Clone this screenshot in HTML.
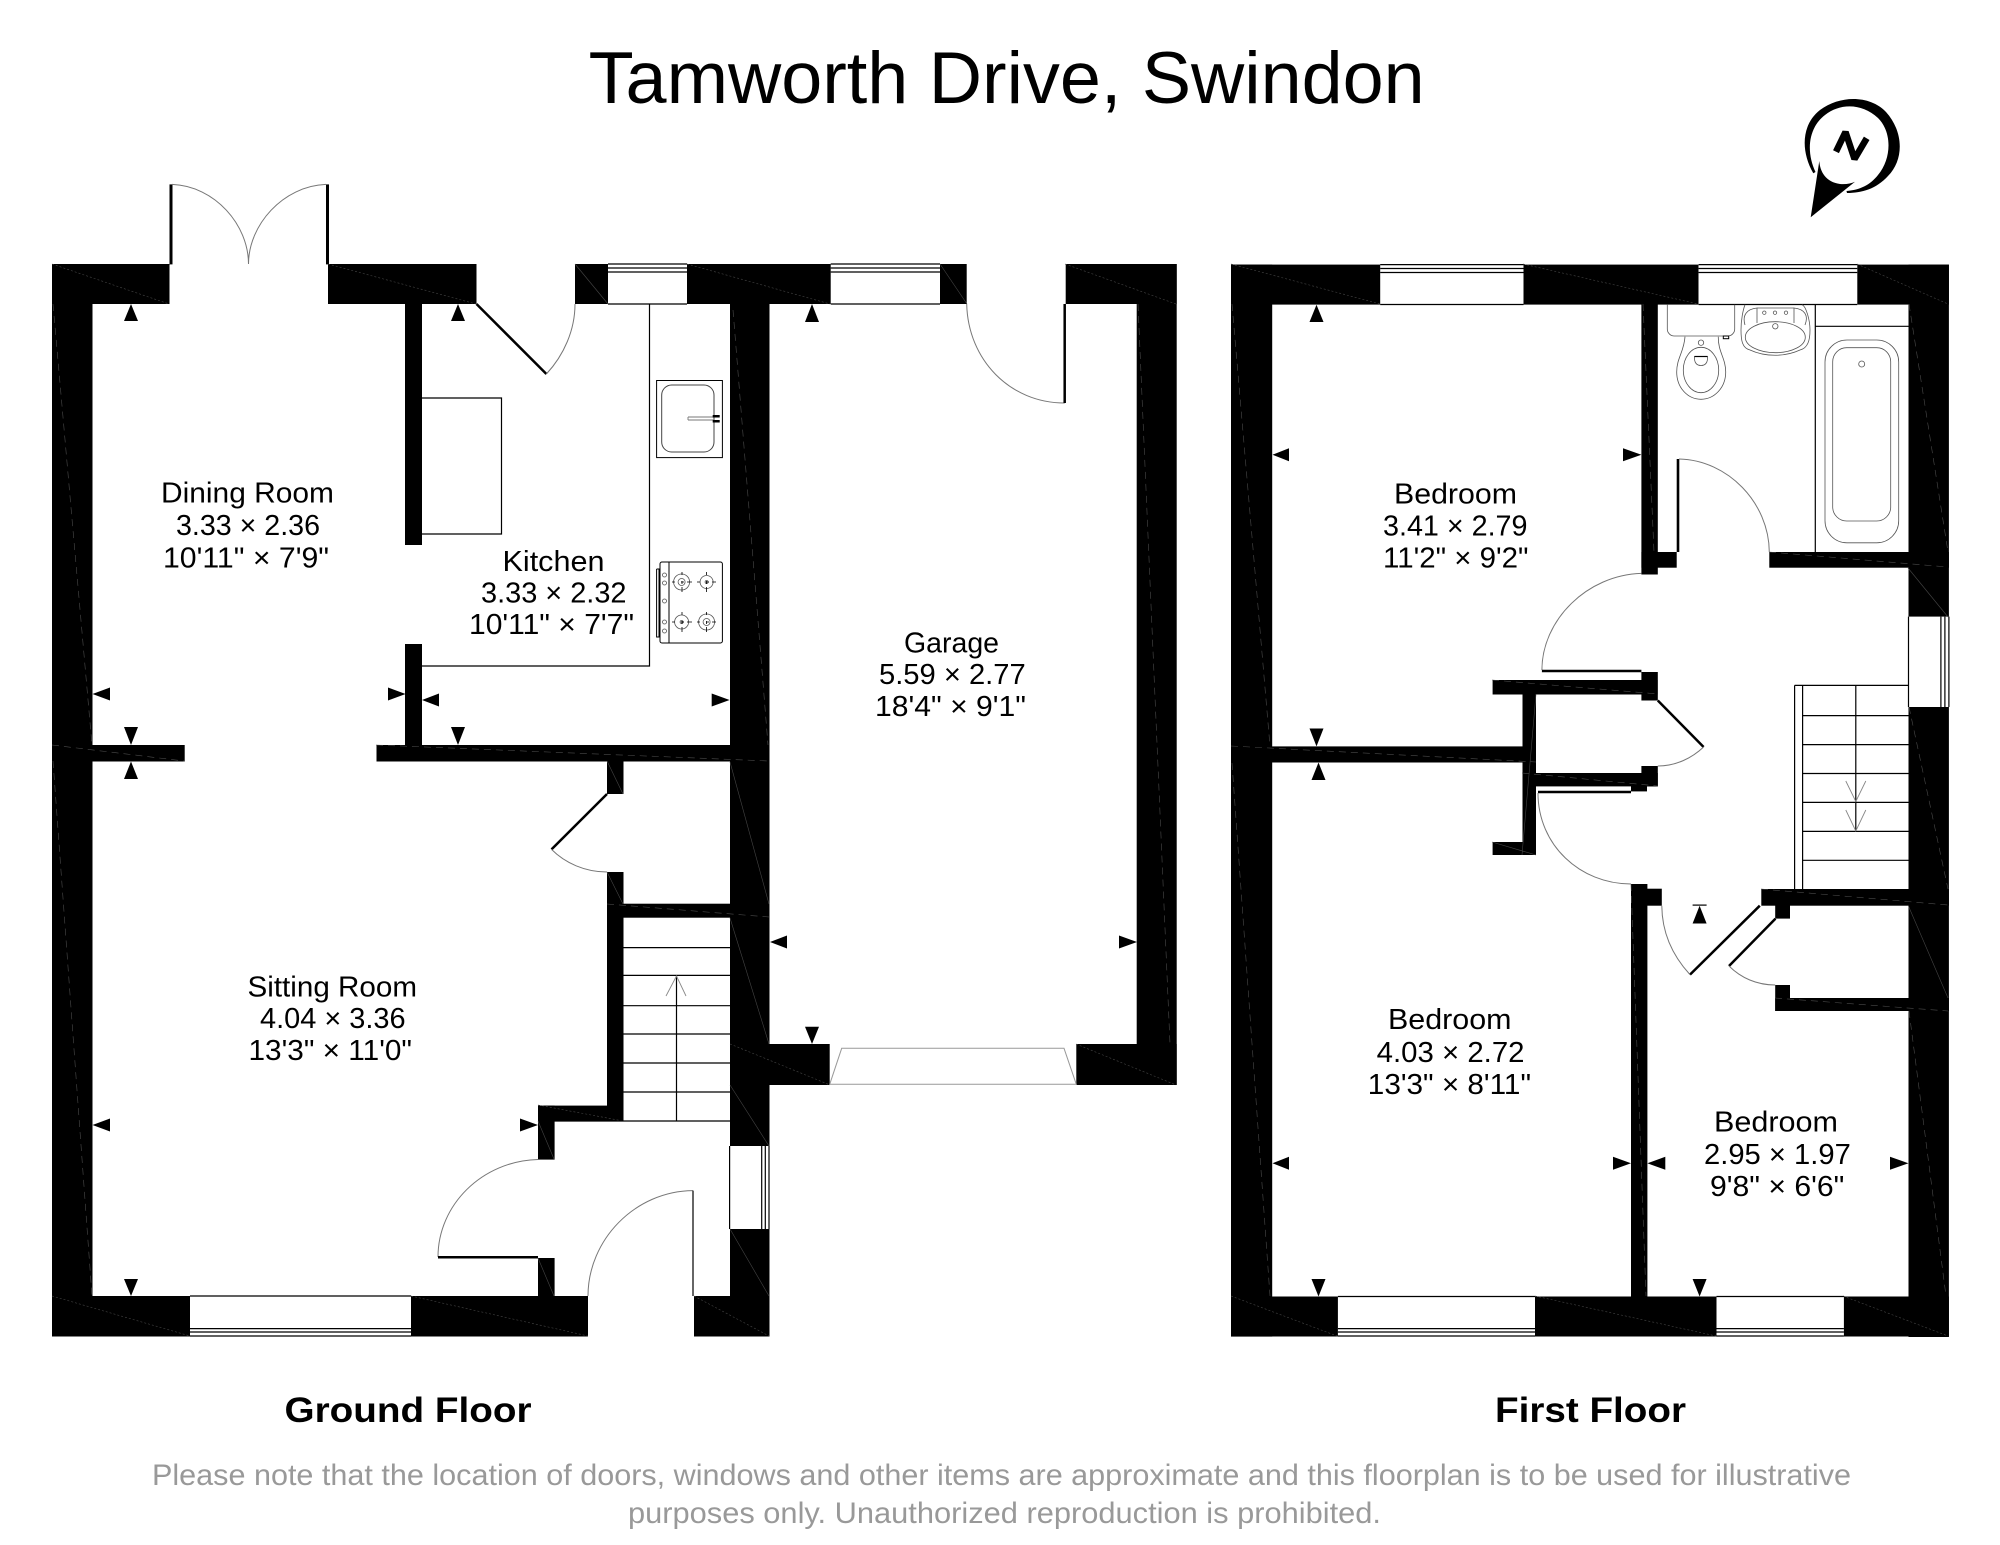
<!DOCTYPE html>
<html><head><meta charset="utf-8"><style>
html,body{margin:0;padding:0;background:#fff}
svg{display:block}
text{font-family:"Liberation Sans",sans-serif;fill:#000}
.r{font-size:29px}
.a{fill:none;stroke:#777;stroke-width:1}
.d{stroke:#000;stroke-width:2.5;fill:none}
.t{stroke:#000;stroke-width:1.2;fill:none}
.g{stroke:#4a4a4a;stroke-width:.6;fill:none;stroke-dasharray:7 5}
.f{stroke:#444;stroke-width:.6;fill:none}
</style></head><body>
<svg width="2000" height="1545" viewBox="0 0 2000 1545" xmlns="http://www.w3.org/2000/svg">
<rect width="2000" height="1545" fill="#fff"/>
<text x="588.7" y="103" font-size="73" textLength="836" lengthAdjust="spacingAndGlyphs">Tamworth Drive, Swindon</text>

<!-- GROUND FLOOR WALLS -->
<g fill="#000">
<rect x="52" y="264" width="40.5" height="1072.5"/>
<rect x="52" y="264" width="117.5" height="40"/>
<rect x="328" y="264" width="148.5" height="40"/>
<rect x="575" y="264" width="33" height="40"/>
<rect x="687" y="264" width="143.7" height="40"/>
<rect x="940" y="264" width="26.7" height="40"/>
<rect x="1065.7" y="264" width="111" height="40"/>
<rect x="1136.7" y="264" width="40" height="821"/>
<rect x="1076.3" y="1044" width="100.4" height="41"/>
<rect x="730" y="1044" width="99.7" height="41"/>
<rect x="730" y="264" width="39.5" height="882"/>
<rect x="730" y="1229" width="39.5" height="107.5"/>
<rect x="405" y="304" width="17" height="241"/>
<rect x="405" y="644" width="17" height="101"/>
<rect x="52" y="745" width="132.7" height="16.5"/>
<rect x="376.5" y="745" width="393" height="16.5"/>
<rect x="607" y="761" width="16.5" height="33"/>
<rect x="607" y="872" width="16.5" height="46"/>
<rect x="607" y="903.7" width="162" height="14"/>
<rect x="607" y="918" width="16.5" height="188"/>
<rect x="538" y="1105.6" width="85.5" height="15.4"/>
<rect x="538" y="1105.6" width="16.6" height="54"/>
<rect x="538" y="1258" width="16.6" height="38"/>
<rect x="52" y="1296" width="138" height="40.5"/>
<rect x="411" y="1296" width="177" height="40.5"/>
<rect x="694" y="1296" width="75.5" height="40.5"/>
<rect x="169.5" y="184.4" width="3" height="80"/>
<rect x="326" y="184.4" width="3" height="80"/>
</g>

<!-- wall construction lines (ground) -->
<g class="g">
<path d="M53 304L92 745M53 761L92 1296M733 310L768 745M1138 304L1170 1044M52 745L184 761M376 745L769 761"/>
<path d="M607 904L769 917"/>
</g>
<g class="f" stroke-dasharray="2 2">
<path d="M52 264L169 304M328 264L476 304M687 264L830 304M1065 264L1176 304M52 1296L190 1336M411 1296L588 1336M694 1296L769 1336M730 1044L830 1085M1076 1044L1176 1085M538 1105L623 1121"/>
</g>
<path class="f" d="M575 264L608 304M940 264L967 304M607 761L623 794M607 872L623 904M538 1121L554 1159M538 1258L554 1296M730 918L769 1044M730 1085L769 1146M730 1229L769 1296M730 762L769 904"/>

<!-- ground windows -->
<g class="t">
<path d="M608 264H687M608 268H687M608 272H687M608 304H687"/>
<path d="M830.7 264H940M830.7 268H940M830.7 272H940M830.7 304H940"/>
<path d="M190 1296H411M190 1328.6H411M190 1332H411M190 1336H411"/>
<path d="M729.6 1146V1229M761.7 1146V1229M765.3 1146V1229M769 1146V1229"/>
</g>
<path d="M841.7 1048.3H1064L1076.3 1084.3H829.7Z" fill="none" stroke="#999" stroke-width="1"/>

<!-- ground doors -->
<path class="a" d="M172 184.4C215 186 248.5 225 248.5 264M326 184.4C283 186 248.5 225 248.5 264"/>
<path class="d" d="M476.5 304L546.4 374"/>
<path class="a" d="M546.4 374C564 355 575 330 575 304"/>
<path class="d" d="M607 794L551.5 849.4"/>
<path class="a" d="M551.5 849.4C565 863 585 872 607 872"/>
<path class="a" d="M538 1159.5C482 1161 438 1205 438 1257"/>
<path class="d" d="M438 1257.3H538"/>
<path class="a" d="M588 1296C588 1240 635 1191 693 1190.6"/>
<path d="M693 1190.6V1296" stroke="#333" stroke-width="1.5" fill="none"/>
<path class="a" d="M966.7 304C968 360 1010 403 1064.7 403"/>
<path d="M1064.7 304V403" stroke="#000" stroke-width="2.5" fill="none"/>

<!-- kitchen -->
<g class="t">
<path d="M649.5 304V666H422"/>
<path d="M422 398H501.5V534H422"/>
<rect x="656.6" y="380.5" width="65.8" height="77.1" stroke-width="1"/>
<rect x="661.7" y="385" width="52.3" height="67" rx="10" stroke="#444" stroke-width="1"/>
<path d="M688 417H714M688 420H714" stroke-width=".9" stroke="#777"/>
<path d="M688 417V420" stroke-width=".9" stroke="#777"/>
<rect x="712.7" y="415" width="7" height="2.5" fill="#000" stroke="none"/>
<rect x="712.7" y="420" width="7" height="2.5" fill="#000" stroke="none"/>
<rect x="660" y="562" width="62.4" height="81" rx="2" stroke-width="1"/>
<path d="M669 562V643M656.6 569H660M656.6 569V637H660M659 569V637" stroke-width="1"/>
</g>
<g fill="none" stroke="#555" stroke-width=".8">
<circle cx="681.6" cy="582" r="8"/><circle cx="681.6" cy="582" r="3.5"/><circle cx="706.6" cy="582" r="6.5"/><circle cx="706.6" cy="582" r="1.5"/><circle cx="681.6" cy="622" r="7"/><circle cx="681.6" cy="622" r="1.5"/><circle cx="706.6" cy="622" r="8"/><circle cx="706.6" cy="622" r="3.5"/>
<circle cx="664.5" cy="575" r="2"/><circle cx="664.5" cy="583" r="2"/><circle cx="664.5" cy="601" r="2"/><circle cx="664.5" cy="622" r="2"/><circle cx="664.5" cy="631" r="2"/>
</g>
<path d="M672 582H692M682 572V592M697 582H716M706.6 572V592M672 622H692M682 612V632M697 622H716M706.6 612V632" stroke="#000" stroke-width=".8" stroke-dasharray="3 6 3"/>

<!-- ground stairs -->
<path class="t" d="M623.5 947.6H730M623.5 975.4H730M623.5 1005.7H730M623.5 1034H730M623.5 1063H730M623.5 1092H730M554 1121H730M676.5 976V1121"/>
<path d="M666 996L676.5 976L686 996" fill="none" stroke="#888" stroke-width=".9"/>

<!-- FIRST FLOOR WALLS -->
<g fill="#000">
<rect x="1231" y="264.6" width="41.2" height="1072"/>
<rect x="1231" y="264.6" width="149.2" height="40"/>
<rect x="1523.5" y="264.6" width="175" height="40"/>
<rect x="1857.3" y="264.6" width="91.6" height="40"/>
<rect x="1908.5" y="264.6" width="40.4" height="352"/>
<rect x="1908.5" y="707" width="40.4" height="630"/>
<rect x="1641.4" y="304" width="16.4" height="270.5"/>
<rect x="1641.4" y="552" width="35.3" height="15.7"/>
<rect x="1769.3" y="552" width="179.6" height="15.7"/>
<rect x="1676.7" y="459" width="2.6" height="93"/>
<rect x="1641.4" y="672" width="16.4" height="28.5"/>
<rect x="1492.6" y="680" width="165" height="14.5"/>
<rect x="1522.5" y="680" width="13.5" height="175"/>
<rect x="1492.6" y="842" width="43.4" height="13"/>
<rect x="1231" y="746.4" width="305" height="16.1"/>
<rect x="1522.5" y="773" width="135.3" height="13.4"/>
<rect x="1641.4" y="766" width="16.4" height="20.4"/>
<rect x="1631" y="786" width="16" height="5.4"/>
<rect x="1631" y="884" width="16.4" height="412.5"/>
<rect x="1631" y="888.7" width="30.8" height="17"/>
<rect x="1761.3" y="889" width="187.6" height="16.7"/>
<rect x="1775.2" y="905" width="14.8" height="13.6"/>
<rect x="1775.2" y="985" width="14.8" height="26"/>
<rect x="1775.2" y="998" width="173.7" height="13"/>
<rect x="1231" y="1296.5" width="106.9" height="40"/>
<rect x="1535" y="1296.5" width="181.5" height="40"/>
<rect x="1843.9" y="1296.5" width="105" height="40"/>
</g>
<g class="g">
<path d="M1232 304L1270 746M1232 763L1270 1296M1643 304L1654 552M1909 304L1948 552M1909 707L1948 889M1909 1011L1946 1296M1231 746L1536 762M1769 552L1948 567M1761 889L1948 905M1631 884L1646 1296M1775 998L1948 1011M1492 680L1658 694M1522 773L1658 786"/>
</g>
<g class="f" stroke-dasharray="2 2">
<path d="M1231 264L1380 304M1523 264L1698 304M1857 264L1948 304M1231 1296L1337 1336M1535 1296L1716 1336M1843 1296L1948 1336"/>
</g>
<path class="f" d="M1908 568L1948 617M1908 905L1948 998M1522 855L1536 694M1492 842L1536 855"/>

<!-- first windows -->
<g class="t">
<path d="M1380.2 264.6H1523.5M1380.2 268.5H1523.5M1380.2 272.5H1523.5M1380.2 304.5H1523.5"/>
<path d="M1698.6 264.6H1857.3M1698.6 268.5H1857.3M1698.6 272.5H1857.3M1698.6 304.5H1857.3"/>
<path d="M1337.9 1296.5H1535M1337.9 1328.6H1535M1337.9 1332H1535M1337.9 1336H1535"/>
<path d="M1716.5 1296.5H1843.9M1716.5 1328.6H1843.9M1716.5 1332H1843.9M1716.5 1336H1843.9"/>
<path d="M1908.5 616.6V707M1940.9 616.6V707M1944.9 616.6V707M1948.9 616.6V707"/>
</g>

<!-- first doors -->
<path class="a" d="M1679 459C1728 460 1769 503 1769.3 552"/>
<path class="a" d="M1641.4 573.4C1587 575 1542 620 1541.9 670"/>
<path class="d" d="M1541.9 671H1641.4"/>
<path class="d" d="M1657.8 700.5L1703.6 747"/>
<path class="a" d="M1703.6 747C1692 758 1676 766 1657.8 766"/>
<path class="d" d="M1538 792H1631"/>
<path class="a" d="M1538 793C1538 845 1580 884 1631 884"/>
<path class="d" d="M1759.8 905.7L1690 974.6"/>
<path class="a" d="M1690 974.6C1672 955 1662 932 1661.8 905.7"/>
<path class="d" d="M1775.5 918.6L1729 966"/>
<path class="a" d="M1729 966C1741 978 1757 985 1775.2 985"/>

<!-- bathroom -->
<path class="t" d="M1815.3 304.7V552M1815.3 326.3H1908.5"/>
<g fill="none" stroke="#555" stroke-width=".8">
<path d="M1667.3 304.7V329a7 7 0 0 0 7 7H1727.7a7 7 0 0 0 7-7V304.7"/>
<path d="M1685 336.7C1684 352 1676.7 358 1676.7 372C1676.7 388 1688 399.3 1701 399.3C1714 399.3 1725.7 388 1725.7 372C1725.7 358 1718 352 1718.3 336.7"/>
<ellipse cx="1701" cy="370" rx="17.7" ry="22.7"/>
<circle cx="1701" cy="342.7" r="2.7"/>
<path d="M1694.5 356.5C1694 363 1697 365.5 1701 365.5C1705 365.5 1708 363 1707.5 356.5Z"/>
<path d="M1741 330C1741 340 1742 348 1750 350C1765 357 1785 357 1800 350C1808 348 1810 340 1810 330C1810 320 1806 306 1802 304.7M1745 304.7C1743 310 1741 320 1741 330"/>
<ellipse cx="1775.3" cy="337.2" rx="30" ry="15.5"/>
<path d="M1745 325C1742 315 1747 309 1757 308V323M1805 325C1809 315 1804 309 1794 308V323M1757 308H1794"/>
<circle cx="1764.3" cy="312.7" r="1.7"/><circle cx="1775" cy="312.7" r="1.7"/><circle cx="1786" cy="312.7" r="1.7"/><circle cx="1775.3" cy="326.3" r="2.7"/>
<rect x="1825" y="340" width="73.7" height="202.8" rx="22"/>
<rect x="1832.7" y="347.7" width="58" height="173.3" rx="14"/>
<circle cx="1861.7" cy="364" r="3"/>
</g>
<rect x="1723.3" y="336" width="5.4" height="2.7" fill="none" stroke="#000" stroke-width="1"/>
<path d="M1694.5 356.5H1707.5" stroke="#000" stroke-width="1.2"/>

<!-- first stairs -->
<path class="t" d="M1794.6 685.4H1908.5M1794.6 685.4V889M1802.6 685.4V889M1802.6 715.6H1908.5M1802.6 744.6H1908.5M1802.6 773.5H1908.5M1802.6 802.4H1908.5M1802.6 831.4H1908.5M1802.6 860.3H1908.5M1855.8 685.4V831.4"/>
<path d="M1845.8 781L1855.8 801.5L1865.8 781M1845.8 810L1855.8 831L1865.8 810" fill="none" stroke="#888" stroke-width=".9"/>

<!-- ARROWS -->
<g fill="#000">
<polygon points="131,304 124,321 138,321"/>
<polygon points="458,304 451,321 465,321"/>
<polygon points="92.5,694 110,687.5 110,700.5"/>
<polygon points="405.6,694 388,687.5 388,700.5"/>
<polygon points="422,700 439,693.5 439,706.5"/>
<polygon points="729.6,700 711.7,693.5 711.7,706.5"/>
<polygon points="131,745 124,727 138,727"/>
<polygon points="131,761.5 124,779 138,779"/>
<polygon points="458,745 451,727 465,727"/>
<polygon points="812,304 805,322 819,322"/>
<polygon points="770,942 787,935.5 787,948.5"/>
<polygon points="1137,942 1119,935.5 1119,948.5"/>
<polygon points="812,1044 805,1026.7 819,1026.7"/>
<polygon points="92.5,1125 110,1118.5 110,1131.5"/>
<polygon points="538,1125 520,1118.5 520,1131.5"/>
<polygon points="131,1296 124,1279 138,1279"/>

<polygon points="1316.5,304.7 1309.5,322 1323.5,322"/>
<polygon points="1272.5,454.8 1289,448.3 1289,461.3"/>
<polygon points="1641.4,454.8 1623,448.3 1623,461.3"/>
<polygon points="1316.5,746.4 1309.5,728.5 1323.5,728.5"/>
<polygon points="1318.5,762.5 1311.5,780 1325.5,780"/>
<polygon points="1272.5,1163.3 1289,1156.8 1289,1169.8"/>
<polygon points="1631,1163.3 1613,1156.8 1613,1169.8"/>
<polygon points="1647.4,1163.3 1665.3,1156.8 1665.3,1169.8"/>
<polygon points="1908.5,1163.3 1890,1156.8 1890,1169.8"/>
<polygon points="1318.5,1296.5 1311.5,1279 1325.5,1279"/>
<polygon points="1699.6,1296.5 1692.6,1279 1706.6,1279"/>
<polygon points="1699.6,905.7 1692.6,923.5 1706.6,923.5"/>
<rect x="1692.6" y="904.5" width="14" height="1.2"/>
</g>

<!-- NORTH -->
<path fill="#000" d="M1813.3 173.3C1800 150 1802 124 1820 110C1840 95 1870 95 1886 112C1904 132 1904 160 1888 176C1876 189 1862 193 1847 193L1846.5 191C1860 190 1870 185 1878 175C1892 158 1892 132 1878 118C1862 103 1840 103 1825 115C1808 128 1806 152 1815.5 172Z"/>
<path fill="#000" d="M1819.3 161C1820 172 1826 182 1840 184C1846 184.5 1851 183.5 1855 181.7L1810.7 217.3Z"/>
<path d="M1836 151.7L1845.5 132L1854.5 159L1866.7 138.3" fill="none" stroke="#000" stroke-width="6.5" stroke-linejoin="bevel"/>

<!-- ROOM LABELS -->
<g class="r">
<text x="161" y="502.4" textLength="173" lengthAdjust="spacingAndGlyphs">Dining Room</text>
<text x="176" y="535" textLength="144" lengthAdjust="spacingAndGlyphs">3.33 × 2.36</text>
<text x="163" y="567.5" textLength="166" lengthAdjust="spacingAndGlyphs">10'11" × 7'9"</text>
<text x="502.5" y="570.8" textLength="102" lengthAdjust="spacingAndGlyphs">Kitchen</text>
<text x="481" y="602.7" textLength="145.5" lengthAdjust="spacingAndGlyphs">3.33 × 2.32</text>
<text x="469" y="634" textLength="165" lengthAdjust="spacingAndGlyphs">10'11" × 7'7"</text>
<text x="247.5" y="996.5" textLength="169.5" lengthAdjust="spacingAndGlyphs">Sitting Room</text>
<text x="260" y="1028" textLength="145.6" lengthAdjust="spacingAndGlyphs">4.04 × 3.36</text>
<text x="248.5" y="1060" textLength="163.5" lengthAdjust="spacingAndGlyphs">13'3" × 11'0"</text>
<text x="904" y="652.7" textLength="95" lengthAdjust="spacingAndGlyphs">Garage</text>
<text x="879" y="684" textLength="146.7" lengthAdjust="spacingAndGlyphs">5.59 × 2.77</text>
<text x="875" y="716" textLength="151" lengthAdjust="spacingAndGlyphs">18'4" × 9'1"</text>
<text x="1394" y="503.7" textLength="123" lengthAdjust="spacingAndGlyphs">Bedroom</text>
<text x="1383" y="535.5" textLength="144.5" lengthAdjust="spacingAndGlyphs">3.41 × 2.79</text>
<text x="1383" y="567.7" textLength="145.5" lengthAdjust="spacingAndGlyphs">11'2" × 9'2"</text>
<text x="1388" y="1029" textLength="123.5" lengthAdjust="spacingAndGlyphs">Bedroom</text>
<text x="1376.7" y="1062" textLength="147.8" lengthAdjust="spacingAndGlyphs">4.03 × 2.72</text>
<text x="1367.8" y="1094" textLength="163.2" lengthAdjust="spacingAndGlyphs">13'3" × 8'11"</text>
<text x="1714" y="1131.6" textLength="124" lengthAdjust="spacingAndGlyphs">Bedroom</text>
<text x="1704" y="1164" textLength="146.8" lengthAdjust="spacingAndGlyphs">2.95 × 1.97</text>
<text x="1710" y="1196" textLength="134.4" lengthAdjust="spacingAndGlyphs">9'8" × 6'6"</text>
</g>

<!-- FLOOR LABELS AND NOTE -->
<text x="284.5" y="1422" font-size="35" font-weight="bold" textLength="247" lengthAdjust="spacingAndGlyphs">Ground Floor</text>
<text x="1495" y="1422" font-size="35" font-weight="bold" textLength="191" lengthAdjust="spacingAndGlyphs">First Floor</text>
<text x="152" y="1485" font-size="30" style="fill:#999" textLength="1699" lengthAdjust="spacingAndGlyphs">Please note that the location of doors, windows and other items are approximate and this floorplan is to be used for illustrative</text>
<text x="628" y="1523" font-size="30" style="fill:#999" textLength="753" lengthAdjust="spacingAndGlyphs">purposes only. Unauthorized reproduction is prohibited.</text>
</svg>
</body></html>
